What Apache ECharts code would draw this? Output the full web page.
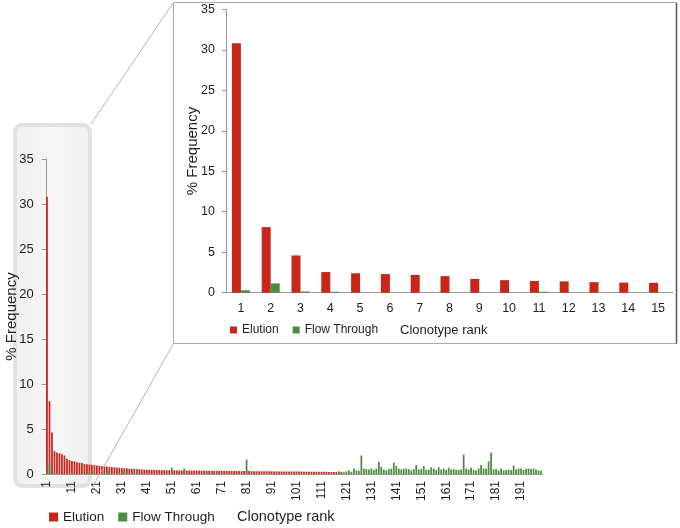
<!DOCTYPE html>
<html><head><meta charset="utf-8">
<script src="https://cdn.jsdelivr.net/npm/echarts@6/dist/echarts.min.js"></script>
<style>html,body{margin:0;padding:0;background:#fff}#c{width:680px;height:528px}</style>
</head><body><div id="c"></div>
<script>
// Clonotype ranks 1..199 (main chart) and 1..15 (inset)
const ranks = Array.from({length: 199}, (_, i) => String(i + 1));
const insetRanks = ['1','2','3','4','5','6','7','8','9','10','11','12','13','14','15'];
const seriesNames = ['Elution', 'Flow Through'];
const yTicks = [0, 5, 10, 15, 20, 25, 30, 35];

const elution = [
 30.8, 8.1, 4.6, 2.55, 2.4, 2.3, 2.2, 2.05, 1.7, 1.55,
 1.45, 1.4, 1.3, 1.25, 1.22, 1.12, 1.08, 1.05, 1.02, 1.0,
 0.95, 0.92, 0.9, 0.86, 0.82, 0.8, 0.78, 0.75, 0.72, 0.7,
 0.66, 0.64, 0.62, 0.6, 0.58, 0.56, 0.54, 0.52, 0.5, 0.49,
 0.48, 0.47, 0.46, 0.45, 0.44, 0.44, 0.43, 0.43, 0.42, 0.42,
 0.41, 0.41, 0.4, 0.4, 0.4, 0.39, 0.39, 0.39, 0.38, 0.38,
 0.38, 0.37, 0.37, 0.37, 0.36, 0.36, 0.36, 0.35, 0.35, 0.35,
 0.35, 0.34, 0.34, 0.34, 0.33, 0.33, 0.33, 0.33, 0.32, 0.32,
 0.32, 0.32, 0.31, 0.31, 0.31, 0.31, 0.3, 0.3, 0.3, 0.3,
 0.29, 0.29, 0.29, 0.29, 0.28, 0.28, 0.28, 0.28, 0.27, 0.27,
 0.27, 0.27, 0.26, 0.26, 0.26, 0.26, 0.25, 0.25, 0.25, 0.25,
 0.24, 0.24, 0.24, 0.23, 0.23, 0.23, 0.22, 0.22, 0.22, 0,
 0, 0, 0, 0, 0, 0, 0, 0, 0, 0,
 0, 0, 0, 0, 0, 0, 0, 0, 0, 0,
 0, 0, 0, 0, 0, 0, 0, 0, 0, 0,
 0, 0, 0, 0, 0, 0, 0, 0, 0, 0,
 0, 0, 0, 0, 0, 0, 0, 0, 0, 0,
 0, 0, 0, 0, 0, 0, 0, 0, 0, 0,
 0, 0, 0, 0, 0, 0, 0, 0, 0, 0,
 0, 0, 0, 0, 0, 0, 0, 0, 0
];

const flowThrough = [
 0.3, 1.15, 0.15, 0.12, 0, 0, 0, 0, 0, 0,
 0.12, 0, 0, 0, 0, 0, 0, 0.25, 0.2, 0,
 0, 0, 0.15, 0, 0.2, 0.4, 0, 0, 0, 0.15,
 0, 0.4, 0, 0, 0.2, 0, 0.45, 0, 0, 0,
 0, 0, 0, 0, 0, 0.1, 0, 0, 0, 0,
 0.7, 0, 0, 0, 0, 0.6, 0, 0, 0, 0,
 0, 0, 0, 0, 0.15, 0, 0.35, 0, 0, 0,
 0, 0, 0, 0, 0, 0, 0, 0, 0, 0,
 1.6, 0, 0, 0, 0, 0, 0, 0, 0, 0,
 0, 0, 0, 0, 0, 0, 0, 0.2, 0, 0,
 0, 0, 0, 0, 0, 0, 0, 0, 0.15, 0,
 0, 0, 0, 0, 0, 0, 0, 0.3, 0, 0.2,
 0.3, 0.4, 0.25, 0.6, 0.4, 0.35, 2.05, 0.6, 0.55, 0.5,
 0.6, 0.45, 0.6, 1.35, 0.8, 0.5, 0.4, 0.55, 0.6, 1.25,
 0.9, 0.6, 0.5, 0.6, 0.6, 0.55, 0.4, 0.55, 1.0, 0.5,
 0.55, 0.85, 0.45, 0.5, 0.75, 0.6, 0.45, 0.75, 0.5, 0.6,
 0.45, 0.7, 0.5, 0.55, 0.45, 0.45, 0.5, 2.15, 0.6, 0.5,
 0.7, 0.45, 0.4, 0.6, 1.0, 0.6, 0.6, 1.4, 2.35, 0.5,
 0.55, 0.4, 0.6, 0.4, 0.45, 0.5, 0.45, 0.95, 0.5, 0.6,
 0.6, 0.45, 0.55, 0.6, 0.55, 0.6, 0.5, 0.4, 0.35
];

const insetElution = [30.8, 8.1, 4.6, 2.55, 2.4, 2.3, 2.2, 2.05, 1.7, 1.55, 1.45, 1.4, 1.3, 1.25, 1.22];
const insetFlow = [0.3, 1.15, 0.15, 0.12, 0, 0, 0, 0, 0, 0, 0.12, 0, 0, 0, 0];

const FONT = '"Liberation Sans", Arial, sans-serif';
const RED = '#c8261b', GREEN = '#4b8d3e', TXT = '#1e1e1e', AX = '#9a9a9a';

const chart = echarts.init(document.getElementById('c'), null, {renderer: 'canvas'});
const yAxisBase = (grid, gap, fs, margin) => ({
  type: 'value', gridIndex: grid, min: yTicks[0], max: yTicks[yTicks.length - 1], interval: yTicks[1] - yTicks[0],
  splitLine: {show: false},
  axisLine: {show: true, lineStyle: {color: AX}},
  axisTick: {show: true, length: 4, lineStyle: {color: AX}},
  axisLabel: {fontSize: fs, color: TXT, margin: margin, fontFamily: FONT},
  name: '% Frequency', nameLocation: 'middle', nameGap: gap, nameMoveOverlap: false,
  nameTextStyle: {fontSize: 15, color: TXT, fontFamily: FONT}
});

chart.setOption({
  animation: false,
  textStyle: {fontFamily: FONT},
  graphic: [
    {type: 'rect', z: -10, shape: {x: 15, y: 125, width: 75, height: 361, r: 7},
     style: {fill: new echarts.graphic.LinearGradient(0, 0, 1, 0, [{offset: 0, color: '#efefef'}, {offset: 0.5, color: '#f7f7f7'}, {offset: 1, color: '#efefef'}]), stroke: '#e2e2e2', lineWidth: 4}},
    {type: 'rect', z: -10, shape: {x: 173.5, y: 2.5, width: 503, height: 341},
     style: {fill: '#fff', stroke: '#a8a8a8', lineWidth: 1}},
    {type: 'line', z: -5, shape: {x1: 676.5, y1: 3, x2: 676.5, y2: 343.5}, style: {stroke: '#555', lineWidth: 1.5}},
    {type: 'line', z: 10, shape: {x1: 91, y1: 124, x2: 173.5, y2: 2.5}, style: {stroke: '#b5b5b5', lineWidth: 1}},
    {type: 'line', z: 10, shape: {x1: 93, y1: 486, x2: 173.5, y2: 343.5}, style: {stroke: '#b5b5b5', lineWidth: 1}},
    {type: 'text', z: 10, left: 237, top: 509, style: {text: 'Clonotype rank', fontSize: 14.5, fontFamily: FONT, fill: TXT}},
    {type: 'text', z: 10, left: 400, top: 324, style: {text: 'Clonotype rank', fontSize: 13, fontFamily: FONT, fill: TXT}}
  ],
  legend: [
    {data: seriesNames, left: 49, top: 510, padding: 0, itemWidth: 9, itemHeight: 9, itemGap: 14, icon: 'rect',
     selectedMode: false, textStyle: {fontSize: 13.5, color: TXT, fontFamily: FONT}},
    {data: seriesNames, left: 230, top: 324, padding: 0, itemWidth: 7, itemHeight: 7, itemGap: 14, icon: 'rect',
     selectedMode: false, textStyle: {fontSize: 12, color: TXT, fontFamily: FONT}}
  ],
  grid: [
    {left: 45.75, top: 159, width: 496.5, height: 315, outerBoundsMode: 'none', containLabel: false},
    {left: 226, top: 9.3, width: 447, height: 283.4, outerBoundsMode: 'none', containLabel: false}
  ],
  xAxis: [
    {type: 'category', gridIndex: 0, data: ranks,
     axisLine: {lineStyle: {color: AX}},
     axisTick: {interval: 0, length: 4, lineStyle: {color: '#b0b0b0'}},
     axisLabel: {interval: 9, rotate: 90, margin: 7, fontSize: 12, color: TXT, fontFamily: FONT}},
    {type: 'category', gridIndex: 1, data: insetRanks,
     axisLine: {lineStyle: {color: AX}},
     axisTick: {length: 5, lineStyle: {color: AX}},
     axisLabel: {interval: 0, margin: 9, fontSize: 12.5, color: TXT, fontFamily: FONT}}
  ],
  yAxis: [yAxisBase(0, 26, 13, 12), yAxisBase(1, 26, 12.5, 11)],
  series: [
    {type: 'bar', name: seriesNames[0], xAxisIndex: 0, yAxisIndex: 0, data: elution,
     itemStyle: {color: RED}, barCategoryGap: '30%', barGap: '-100%'},
    {type: 'bar', name: seriesNames[1], xAxisIndex: 0, yAxisIndex: 0, data: flowThrough,
     itemStyle: {color: GREEN}, barCategoryGap: '30%', barGap: '-100%'},
    {type: 'bar', name: seriesNames[0], xAxisIndex: 1, yAxisIndex: 1, data: insetElution,
     itemStyle: {color: RED}, barWidth: 9, barGap: '0%'},
    {type: 'bar', name: seriesNames[1], xAxisIndex: 1, yAxisIndex: 1, data: insetFlow,
     itemStyle: {color: GREEN}, barWidth: 9, barGap: '0%'}
  ]
});
</script></body></html>
